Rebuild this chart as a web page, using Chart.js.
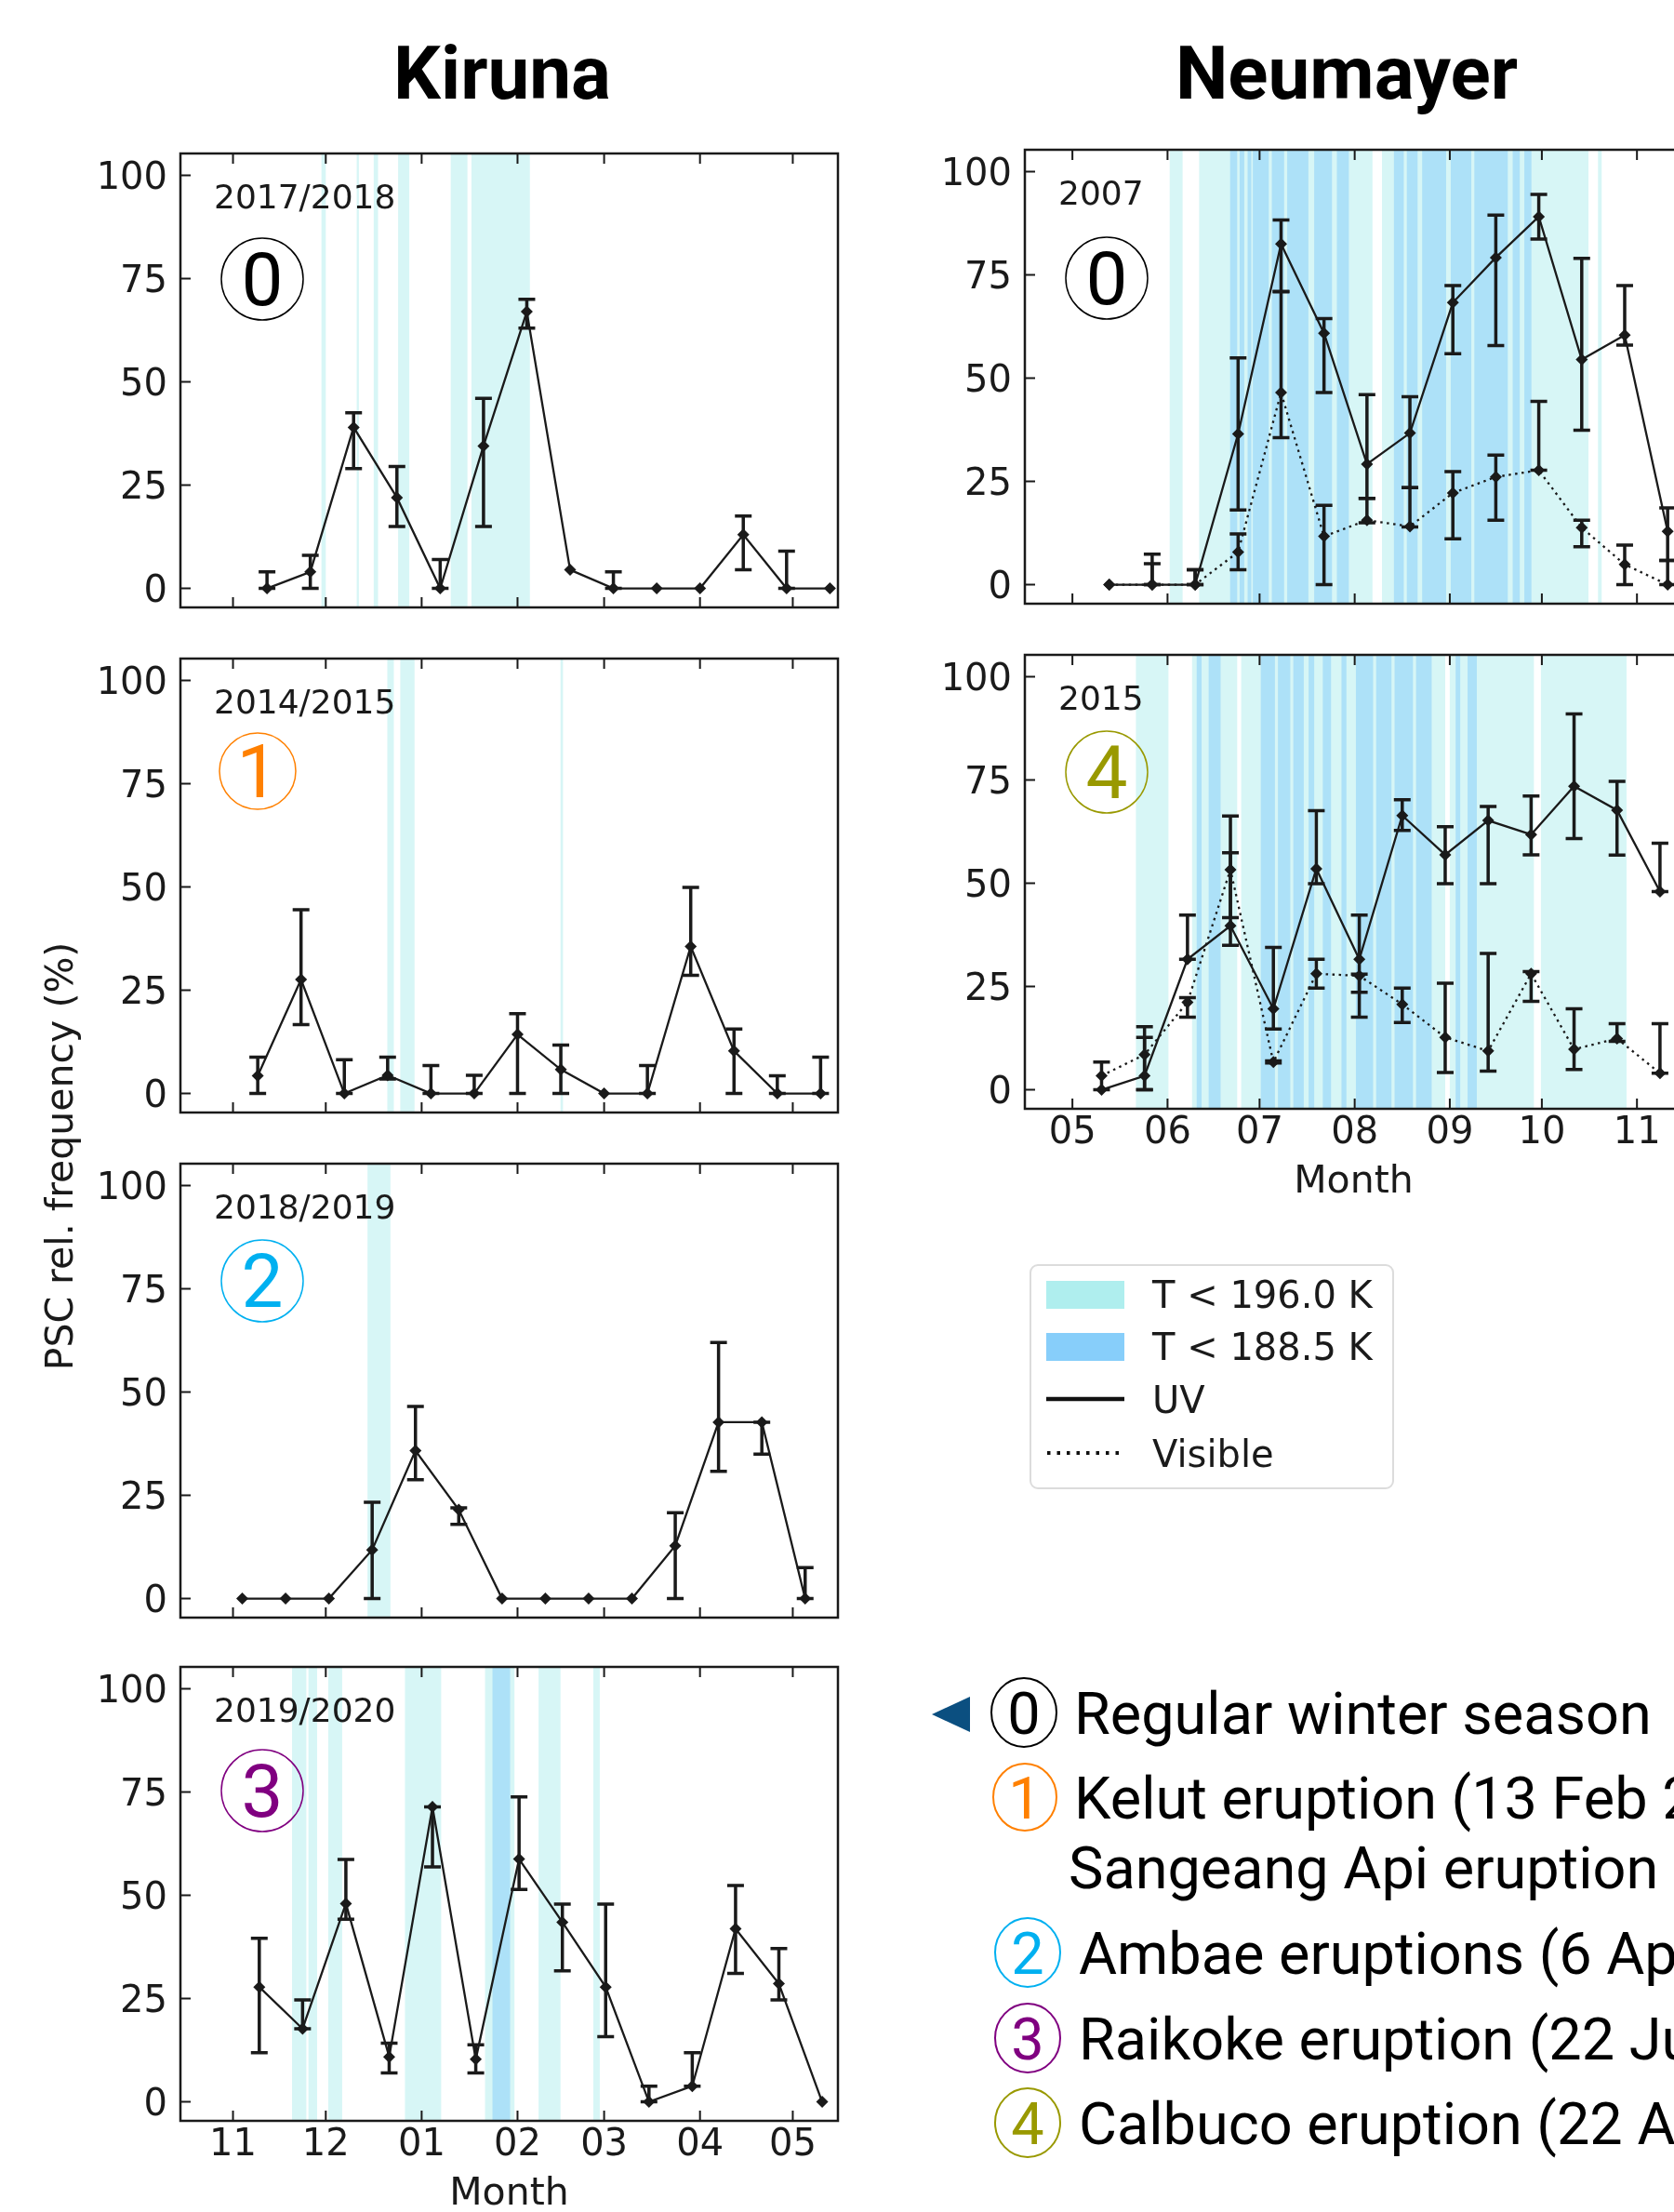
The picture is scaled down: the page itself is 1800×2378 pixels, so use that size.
<!DOCTYPE html>
<html>
<head>
<meta charset="utf-8">
<script src="https://cdn.jsdelivr.net/npm/chart.js@4.4.1/dist/chart.umd.min.js"></script>
<style>
  body { margin: 0; background: #fff; }
  #page { position: relative; width: 1800px; height: 2378px; overflow: hidden; }
  canvas { position: absolute; }
  svg { position: absolute; left: 0; top: 0; }
</style>
</head>
<body>
<div id="page">
  <canvas id="k0" width="831" height="528" style="left:80px;top:145px"></canvas>
  <canvas id="k1" width="831" height="528" style="left:80px;top:688px"></canvas>
  <canvas id="k2" width="831" height="528" style="left:80px;top:1231px"></canvas>
  <canvas id="k3" width="831" height="618" style="left:80px;top:1772px"></canvas>
  <canvas id="n0" width="831" height="528" style="left:988px;top:141px"></canvas>
  <canvas id="n1" width="831" height="618" style="left:988px;top:684px"></canvas>

  <svg width="1800" height="2378">
    <g font-family="Roboto" font-weight="700" font-size="80" fill="#000" text-anchor="middle">
      <text x="540" y="106">Kiruna</text>
      <text x="1448" y="106">Neumayer</text>
    </g>
    <text transform="translate(78,1243) rotate(-90)" text-anchor="middle" font-family="DejaVu Sans" font-size="41" fill="#1a1a1a">PSC rel. frequency (%)</text>

    <!-- legend -->
    <rect x="1108" y="1360" width="390" height="240" rx="8" fill="#fff" stroke="#dcdcdc" stroke-width="2"/>
    <rect x="1125" y="1377" width="84" height="30" fill="#afeeee"/>
    <rect x="1125" y="1433" width="84" height="30" fill="#87cefa"/>
    <line x1="1125" y1="1504" x2="1209" y2="1504" stroke="#111" stroke-width="4.5"/>
    <line x1="1126" y1="1562" x2="1209" y2="1562" stroke="#111" stroke-width="4" stroke-dasharray="3.5 7"/>
    <g font-family="DejaVu Sans" font-size="40" fill="#1a1a1a">
      <text x="1239" y="1406">T &lt; 196.0 K</text>
      <text x="1239" y="1462">T &lt; 188.5 K</text>
      <text x="1239" y="1519">UV</text>
      <text x="1239" y="1577">Visible</text>
    </g>

    <!-- event list -->
    <polygon points="1002,1843 1043,1824 1043,1862" fill="#0b4f80"/>
    <g fill="none" stroke-width="2">
      <ellipse cx="1101" cy="1841" rx="35" ry="37" stroke="#000"/>
      <ellipse cx="1102" cy="1932" rx="34" ry="36" stroke="#ff8000"/>
      <ellipse cx="1105" cy="2099" rx="35" ry="37" stroke="#00b0f0"/>
      <ellipse cx="1105" cy="2191" rx="35" ry="37" stroke="#800080"/>
      <ellipse cx="1105" cy="2282" rx="35" ry="37" stroke="#999900"/>
    </g>
    <g font-family="Roboto" font-size="63" text-anchor="middle">
      <text x="1101" y="1864" fill="#000">0</text>
      <text x="1102" y="1955" fill="#ff8000">1</text>
      <text x="1105" y="2122" fill="#00b0f0">2</text>
      <text x="1105" y="2214" fill="#800080">3</text>
      <text x="1105" y="2305" fill="#999900">4</text>
    </g>
    <g font-family="Roboto" font-size="63" fill="#000">
      <text x="1155" y="1864">Regular winter season</text>
      <text x="1155" y="1955">Kelut eruption (13 Feb 2014) and</text>
      <text x="1149" y="2030">Sangeang Api eruption (30 May 2014)</text>
      <text x="1160" y="2122">Ambae eruptions (6 Apr and 27 Jul 2018)</text>
      <text x="1160" y="2214">Raikoke eruption (22 Jun 2019)</text>
      <text x="1160" y="2305">Calbuco eruption (22 Apr 2015)</text>
    </g>
  </svg>
</div>

<script>
// x values are days after the first tick month (Kiruna: 1 Nov, Neumayer: 1 May)
const kirunaMonthDays = [0, 30, 61, 92, 120, 151, 181];
const kirunaMonthLabels = ['11', '12', '01', '02', '03', '04', '05'];
const neumayerMonthDays = [0, 31, 61, 92, 123, 153, 184];
const neumayerMonthLabels = ['05', '06', '07', '08', '09', '10', '11'];
const yTicks = [0, 25, 50, 75, 100];

// Kiruna 2017/2018
const k0Days = [11, 25, 39, 53, 67, 81, 95, 109, 123, 137, 151, 165, 179, 193];
const k0UV   = [0, 4, 39, 22, 0, 34.5, 67, 4.5, 0, 0, 0, 13, 0, 0];
const k0Lo   = [0, 0, 29, 15, 0, 15, 63, null, 0, null, null, 4.5, 0, null];
const k0Hi   = [4, 8, 42.5, 29.5, 7, 46, 70, null, 4, null, null, 17.5, 9, null];
const k0Cyan = [[28.6, 30], [40, 40.7], [45.5, 46.9], [53.4, 57], [70.4, 75.8], [77.1, 96]];
const k0Blue = [];

// Kiruna 2014/2015
const k1Days = [8, 22, 36, 50, 64, 78, 92, 106, 120, 134, 148, 162, 176, 190];
const k1UV   = [4.3, 27.6, 0, 4.4, 0, 0, 14.3, 5.8, 0, 0, 35.6, 10.3, 0, 0];
const k1Lo   = [0, 16.7, 0, 3.5, 0, 0, 0, 0, null, 0, 28.6, 0, 0, 0];
const k1Hi   = [8.8, 44.5, 8.2, 8.8, 6.8, 4.4, 19.3, 11.7, null, 6.8, 49.9, 15.6, 4.3, 8.8];
const k1Cyan = [[49.9, 52], [54.1, 58.7], [105.9, 106.7]];
const k1Blue = [];

// Kiruna 2018/2019
const k2Days = [3, 17, 31, 45, 59, 73, 87, 101, 115, 129, 143, 157, 171, 185];
const k2UV   = [0, 0, 0, 11.8, 35.8, 21.5, 0, 0, 0, 0, 12.8, 42.7, 42.7, 0];
const k2Lo   = [null, null, null, 0, 28.8, 18, null, null, null, null, 0, 30.8, 35, 0];
const k2Hi   = [null, null, null, 23.3, 46.5, 22, null, null, null, null, 20.8, 62, 42.7, 7.5];
const k2Cyan = [[43.5, 50.9]];
const k2Blue = [];

// Kiruna 2019/2020
const k3Days = [8.5, 22.5, 36.5, 50.5, 64.5, 78.5, 92.5, 106.5, 120.5, 134.5, 148.5, 162.5, 176.5, 190.5];
const k3UV   = [27.8, 17.7, 48, 10.9, 71.4, 10.3, 58.8, 43.5, 27.8, 0, 3.8, 41.9, 28.6, 0];
const k3Lo   = [11.9, 17.7, 44.2, 7, 56.9, 7, 51.4, 31.7, 15.8, 0, 3.8, 31.1, 24.7, null];
const k3Hi   = [39.6, 24.7, 58.7, 14.2, 71.4, 13.8, 73.8, 47.9, 47.9, 3.8, 11.9, 52.4, 37.1, null];
const k3Cyan = [[19.1, 23.7], [24.4, 27.2], [30.8, 35.3], [55.6, 67.3], [81.5, 91], [98.8, 105.9], [116.5, 118.6]];
const k3Blue = [[83.9, 89.6]];

// Neumayer 2007
const n0Days  = [12, 26, 40, 54, 68, 82, 96, 110, 124, 138, 152, 166, 180, 194];
const n0UV    = [0, 0, 0, 36.5, 82.5, 60.9, 29.2, 36.7, 68.3, 79.2, 89.1, 54.5, 60.4, 12.9];
const n0UVLo  = [null, 0, 0, 18.1, 71, 46.5, 20.9, 23.5, 55.9, 57.9, 83.7, 37.4, 58, 5.9];
const n0UVHi  = [null, 7.4, 3.6, 54.9, 88.3, 64.4, 46, 45.5, 72.4, 89.5, 94.5, 79, 72.4, 18.6];
const n0Vis   = [0, 0, 0, 7.9, 46.5, 11.7, 15.6, 14.1, 22.2, 26.1, 27.7, 13.8, 4.9, 0];
const n0VisLo = [null, 0, 0, 3.6, 35.6, 0, 15, 14, 11.1, 15.6, 27.7, 9.2, 0, 0];
const n0VisHi = [null, 5.1, 3.6, 12.3, 70.9, 19.2, 20.9, 23.5, 27.4, 31.4, 44.4, 15.6, 9.6, 5.9];
const n0Cyan  = [[31.7, 35.9], [41.3, 97.8], [100.9, 168.2], [171.3, 172.5]];
const n0Blue  = [[51.4, 53.7], [54.5, 56], [57.1, 58.3], [58.8, 64], [65, 69], [70, 76.9], [78.8, 84.6], [86.2, 90.1],
                 [104.8, 108], [109, 112.5], [114, 121.8], [123.3, 130], [131, 141.9], [143.5, 145.8], [147.3, 149.6]];

// Neumayer 2015
const n1Days  = [9.5, 23.5, 37.5, 51.5, 65.5, 79.5, 93.5, 107.5, 121.5, 135.5, 149.5, 163.5, 177.5, 191.5];
const n1UV    = [0, 3.4, 31.6, 39.7, 19.6, 53.5, 31.6, 66.4, 56.9, 65.2, 61.8, 73.5, 67.7, 48];
const n1UVLo  = [null, 0, 31.6, 35, 14.7, 49.9, 17.6, 62.8, 49.9, 49.9, 56.9, 60.8, 56.8, 48];
const n1UVHi  = [null, 15.3, 42.3, 57.4, 34.5, 67.6, 42.3, 70.2, 63.7, 68.6, 71.1, 91, 74.7, 59.7];
const n1Vis   = [3.4, 8.5, 21.2, 53.3, 6.7, 28.1, 27.6, 20.7, 12.7, 9.4, 28.1, 9.8, 12.4, 4];
const n1VisLo = [0, 0, 17.6, 41.7, 6.5, 24.6, 23.6, 16.3, 4.2, 4.5, 21.4, 4.9, 11.7, 4];
const n1VisHi = [6.7, 12.7, 22.3, 66.3, 7, 31.6, 28, 24.6, 25.8, 33, 28.6, 19.6, 16, 16];
const n1Cyan  = [[20.7, 31.3], [39, 53.7], [55, 121.5], [123, 150.4], [152.7, 180.6]];
const n1Blue  = [[40.5, 42.1], [44.4, 48.3], [61.4, 66], [67, 71], [72, 75.4], [77, 78.8], [81.6, 84.3], [87.7, 89.3],
                 [92.4, 98], [99, 104], [105, 111], [112, 117.1], [124.9, 126.4], [128.8, 131.8]];

const INK = '#1a1a1a';

// bands, error bars, frame with inward ticks, season label and circled number
const decor = {
  id: 'decor',
  beforeDatasetsDraw(chart, args, o) {
    const { ctx, chartArea: a, scales: { x } } = chart;
    ctx.save();
    ctx.beginPath();
    ctx.rect(a.left, a.top, a.width, a.height);
    ctx.clip();
    const band = (list, color) => {
      ctx.fillStyle = color;
      list.forEach(([s, e]) => {
        const x0 = x.getPixelForValue(s), x1 = x.getPixelForValue(e);
        ctx.fillRect(x0, a.top, x1 - x0, a.height);
      });
    };
    band(o.cyan, 'rgba(175,238,238,0.5)');
    band(o.blue, 'rgba(135,206,250,0.52)');
    ctx.restore();
  },
  afterDatasetsDraw(chart) {
    const { ctx, scales: { x, y } } = chart;
    ctx.save();
    ctx.strokeStyle = INK;
    ctx.lineWidth = 3.5;
    chart.data.datasets.forEach(ds => {
      ds.data.forEach((p, i) => {
        const lo = ds.errLo[i], hi = ds.errHi[i];
        if (lo == null || hi == null) return;
        const px = x.getPixelForValue(p.x);
        const y0 = y.getPixelForValue(lo), y1 = y.getPixelForValue(hi);
        ctx.beginPath();
        ctx.moveTo(px, y0); ctx.lineTo(px, y1);
        ctx.moveTo(px - 9, y0); ctx.lineTo(px + 9, y0);
        ctx.moveTo(px - 9, y1); ctx.lineTo(px + 9, y1);
        ctx.stroke();
      });
    });
    ctx.restore();
  },
  afterDraw(chart, args, o) {
    const { ctx, chartArea: a, scales: { x, y } } = chart;
    ctx.save();
    ctx.strokeStyle = INK;
    ctx.lineWidth = 2;
    ctx.beginPath();
    o.months.forEach(v => {
      const px = x.getPixelForValue(v);
      ctx.moveTo(px, a.bottom); ctx.lineTo(px, a.bottom - 11);
      ctx.moveTo(px, a.top); ctx.lineTo(px, a.top + 11);
    });
    yTicks.forEach(v => {
      const py = y.getPixelForValue(v);
      ctx.moveTo(a.left, py); ctx.lineTo(a.left + 11, py);
    });
    ctx.stroke();
    ctx.lineWidth = 2.5;
    ctx.strokeRect(a.left, a.top, a.width, a.height);

    ctx.fillStyle = INK;
    ctx.font = '36px "DejaVu Sans"';
    ctx.textAlign = 'left';
    ctx.fillText(o.label, a.left + 36, a.top + 59);

    const cx = a.left + o.markAt[0], cy = a.top + o.markAt[1];
    ctx.strokeStyle = o.markColor;
    ctx.lineWidth = 1.5;
    ctx.beginPath();
    ctx.ellipse(cx, cy, o.markR, o.markR, 0, 0, Math.PI * 2);
    ctx.stroke();
    ctx.fillStyle = o.markColor;
    ctx.font = '80px Roboto';
    ctx.textAlign = 'center';
    ctx.fillText(o.mark, cx, cy + 28);
    ctx.restore();
  }
};

function series(days, vals, lo, hi, dotted) {
  return {
    data: days.map((d, i) => ({ x: d, y: vals[i] })),
    errLo: lo, errHi: hi,
    borderColor: INK, backgroundColor: INK,
    borderWidth: 2.3,
    borderDash: dotted ? [2.5, 4.5] : [],
    pointStyle: 'rectRot', pointRadius: 6.5,
    pointBackgroundColor: INK, pointBorderColor: INK, pointBorderWidth: 0,
    tension: 0
  };
}

function makePanel(id, p) {
  new Chart(document.getElementById(id), {
    type: 'line',
    data: { datasets: p.datasets },
    options: {
      responsive: false,
      animation: false,
      events: [],
      layout: { autoPadding: false, padding: { top: 20, right: 10, bottom: 0, left: 0 } },
      plugins: {
        legend: { display: false },
        tooltip: { enabled: false },
        decor: {
          cyan: p.cyan, blue: p.blue, months: p.months, label: p.label,
          mark: p.mark, markColor: p.markColor, markAt: p.markAt, markR: p.markR
        }
      },
      scales: {
        x: {
          type: 'linear', min: p.xmin, max: p.xmax,
          grid: { display: false, drawTicks: false },
          border: { display: false },
          afterBuildTicks: ax => { ax.ticks = p.months.map(v => ({ value: v })); },
          ticks: {
            display: p.showX, autoSkip: false, maxRotation: 0, padding: 3,
            callback: (v, i) => p.monthLabels[i],
            font: { family: 'DejaVu Sans', size: 40 }, color: INK
          },
          title: {
            display: p.showX, text: 'Month', color: INK,
            font: { family: 'DejaVu Sans', size: 41 }, padding: { top: 0, bottom: 6 }
          },
          afterFit: ax => {
            ax.height = p.showX ? 110 : 20;
            ax.paddingLeft = 0; ax.paddingRight = 0;
          }
        },
        y: {
          min: -4.6, max: 105.3,
          grid: { display: false, drawTicks: false },
          border: { display: false },
          afterBuildTicks: ax => { ax.ticks = yTicks.map(v => ({ value: v })); },
          ticks: { padding: 14, labelOffset: 4, font: { family: 'DejaVu Sans', size: 40 }, color: INK },
          afterFit: ax => {
            ax.width = 114;
            ax.paddingTop = 0; ax.paddingBottom = 0;
          }
        }
      }
    },
    plugins: [decor]
  });
}

const kiruna = { xmin: -17, xmax: 195.6, months: kirunaMonthDays, monthLabels: kirunaMonthLabels };
const neumayer = { xmin: -15.5, xmax: 198.8, months: neumayerMonthDays, monthLabels: neumayerMonthLabels };

makePanel('k0', { ...kiruna, showX: false, label: '2017/2018', mark: '0', markColor: '#000000', markAt: [88, 135], markR: 44,
  cyan: k0Cyan, blue: k0Blue, datasets: [series(k0Days, k0UV, k0Lo, k0Hi, false)] });
makePanel('k1', { ...kiruna, showX: false, label: '2014/2015', mark: '1', markColor: '#ff8000', markAt: [83, 121], markR: 41,
  cyan: k1Cyan, blue: k1Blue, datasets: [series(k1Days, k1UV, k1Lo, k1Hi, false)] });
makePanel('k2', { ...kiruna, showX: false, label: '2018/2019', mark: '2', markColor: '#00b0f0', markAt: [88, 126], markR: 44,
  cyan: k2Cyan, blue: k2Blue, datasets: [series(k2Days, k2UV, k2Lo, k2Hi, false)] });
makePanel('k3', { ...kiruna, showX: true, label: '2019/2020', mark: '3', markColor: '#800080', markAt: [88, 133], markR: 44,
  cyan: k3Cyan, blue: k3Blue, datasets: [series(k3Days, k3UV, k3Lo, k3Hi, false)] });
makePanel('n0', { ...neumayer, showX: false, label: '2007', mark: '0', markColor: '#000000', markAt: [88, 138], markR: 44,
  cyan: n0Cyan, blue: n0Blue, datasets: [series(n0Days, n0UV, n0UVLo, n0UVHi, false), series(n0Days, n0Vis, n0VisLo, n0VisHi, true)] });
makePanel('n1', { ...neumayer, showX: true, label: '2015', mark: '4', markColor: '#999900', markAt: [88, 126], markR: 44,
  cyan: n1Cyan, blue: n1Blue, datasets: [series(n1Days, n1UV, n1UVLo, n1UVHi, false), series(n1Days, n1Vis, n1VisLo, n1VisHi, true)] });
</script>
</body>
</html>
